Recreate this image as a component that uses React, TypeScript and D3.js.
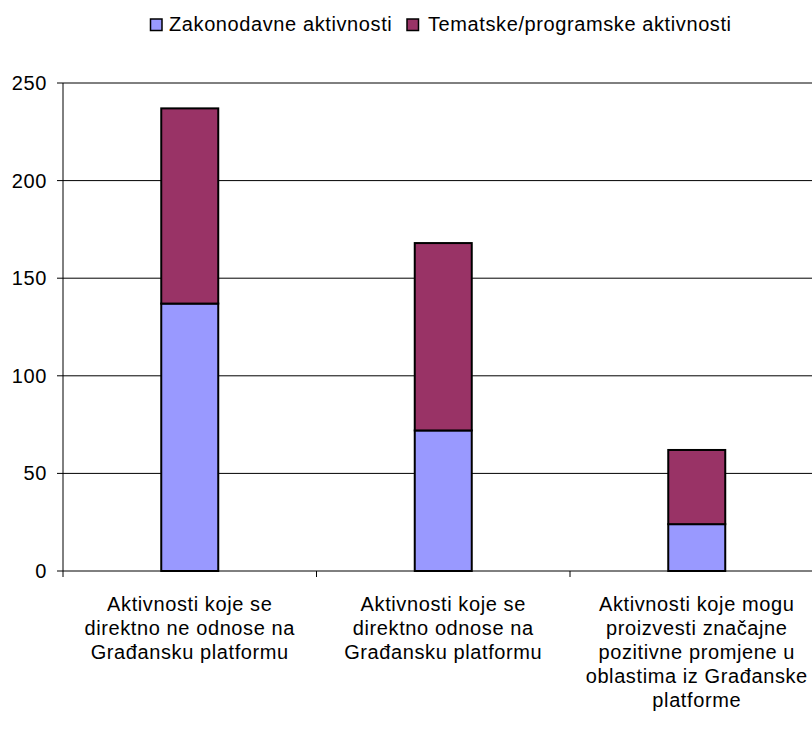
import React from "react";
import * as d3 from "d3";

const categories: string[][] = [
  ["Aktivnosti koje se", "direktno ne odnose na", "Građansku platformu"],
  ["Aktivnosti koje se", "direktno odnose na", "Građansku platformu"],
  ["Aktivnosti koje mogu", "proizvesti značajne", "pozitivne promjene u", "oblastima iz Građanske", "platforme"],
];
const seriesNames = ["Zakonodavne aktivnosti", "Tematske/programske aktivnosti"];
const zakonodavne = [137, 72, 24];
const tematske = [100, 96, 38];
const yTicks = [0, 50, 100, 150, 200, 250];
const colors = ["#9999FF", "#993366"];

const W = 812;
const H = 733;
const left = 63;
const right = 823.5;
const top = 83;
const bottom = 571;
const font = "'Liberation Sans', Arial, sans-serif";

export default function App() {
  const x = d3.scaleBand<number>().domain([0, 1, 2]).range([left, right]).padding(0);
  const y = d3.scaleLinear().domain([0, 250]).range([bottom, top]);
  const barW = 57;
  const stack = d3.stack<number>().keys(["0", "1"]).value((i, k) => (k === "0" ? zakonodavne[i] : tematske[i]));
  const layers = stack([0, 1, 2]);
  const legendItems = [
    { sx: 150.5, tx: 169 },
    { sx: 407, tx: 428 },
  ];
  return (
    <svg width={W} height={H} style={{ position: "absolute", left: 0, top: 0, background: "#fff" }} fontFamily={font}>
      {yTicks.map((t) => (
        <g key={t}>
          <line x1={left} x2={right} y1={y(t)} y2={y(t)} stroke="#000" strokeWidth={1} />
          <line x1={left - 6} x2={left} y1={y(t)} y2={y(t)} stroke="#000" strokeWidth={1} />
          <text x={47} y={y(t) + 7} textAnchor="end" fontSize={20} letterSpacing={0.6} fill="#000">
            {t}
          </text>
        </g>
      ))}
      <line x1={left} x2={left} y1={top} y2={bottom + 6} stroke="#000" strokeWidth={1} />
      {[1, 2].map((i) => (
        <line key={i} x1={x(i)!} x2={x(i)!} y1={bottom} y2={bottom + 6} stroke="#000" strokeWidth={1} />
      ))}
      {layers.map((layer, li) =>
        layer.map((d, i) => {
          const cx = x(i)! + x.bandwidth() / 2;
          return (
            <rect
              key={`${li}-${i}`}
              x={cx - barW / 2}
              width={barW}
              y={y(d[1])}
              height={y(d[0]) - y(d[1])}
              fill={colors[li]}
              stroke="#000"
              strokeWidth={2}
            />
          );
        })
      )}
      {categories.map((lines, i) => (
        <text key={i} textAnchor="middle" fontSize={20} letterSpacing={0.6} fill="#000">
          {lines.map((ln, j) => (
            <tspan key={j} x={x(i)! + x.bandwidth() / 2} y={610.5 + j * 24}>
              {ln}
            </tspan>
          ))}
        </text>
      ))}
      {seriesNames.map((n, i) => (
        <g key={n}>
          <rect x={legendItems[i].sx} y={19} width={11.5} height={11.5} fill={colors[i]} stroke="#000" strokeWidth={1.5} />
          <text x={legendItems[i].tx} y={31} fontSize={20} letterSpacing={0.6} fill="#000">
            {n}
          </text>
        </g>
      ))}
    </svg>
  );
}
